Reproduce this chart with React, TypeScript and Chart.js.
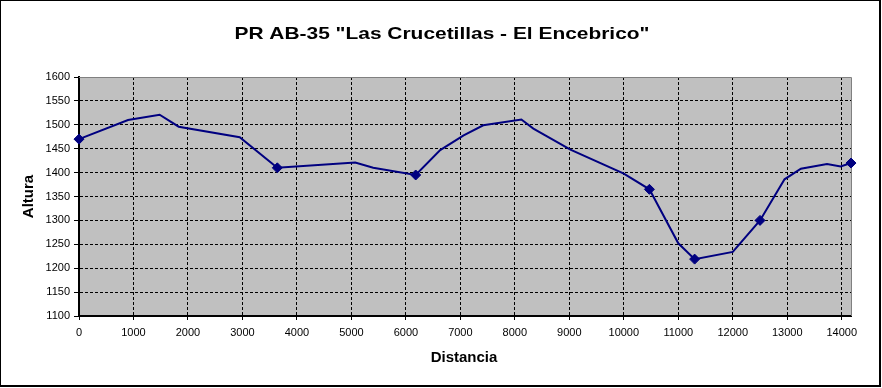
import React, { useEffect, useRef } from "react";
import { Chart, registerables } from "chart.js";

Chart.register(...registerables);

const TITLE = 'PR AB-35 "Las Crucetillas - El Encebrico"';
const X_TITLE = "Distancia";
const Y_TITLE = "Altura";

const distances = [0, 900, 1480, 1830, 2950, 3640, 5070, 5400, 6180, 6630, 7060, 7420, 8120, 8340, 9020, 10000, 10470, 11000, 11300, 12000, 12500, 12950, 13250, 13730, 13980, 14170];
const altitudes = [1470, 1510, 1521, 1496, 1474, 1410, 1421, 1410, 1395, 1447, 1478, 1499, 1511, 1492, 1448, 1398, 1365, 1252, 1219, 1234, 1300, 1386, 1408, 1418, 1413, 1420];
const waypoints = [true, false, false, false, false, true, false, false, true, false, false, false, false, false, false, false, true, false, true, false, true, false, false, false, false, true];

const xTicks = [0, 1000, 2000, 3000, 4000, 5000, 6000, 7000, 8000, 9000, 10000, 11000, 12000, 13000, 14000];
const yTicks = [1100, 1150, 1200, 1250, 1300, 1350, 1400, 1450, 1500, 1550, 1600];

const FONT = "'Liberation Sans', Arial, sans-serif";

export default function App() {
  const ref = useRef<HTMLCanvasElement | null>(null);

  useEffect(() => {
    const canvas = ref.current;
    if (!canvas) return;

    const decor = {
      id: "decor",
      beforeDraw(chart: any) {
        const { ctx, chartArea: a } = chart;
        ctx.save();
        ctx.fillStyle = "#ffffff";
        ctx.fillRect(0, 0, chart.width, chart.height);
        ctx.fillStyle = "#c0c0c0";
        ctx.fillRect(a.left, a.top, a.right - a.left, a.bottom - a.top);
        // outer frame
        ctx.fillStyle = "#000000";
        ctx.fillRect(0, 0, 881, 1);
        ctx.fillRect(0, 0, 1, 387);
        ctx.fillRect(879, 0, 2, 387);
        ctx.fillRect(0, 385, 881, 2);
        // chart title (stretched to the reference's wide rendering)
        ctx.fillStyle = "#000000";
        ctx.textAlign = "center";
        ctx.textBaseline = "middle";
        ctx.font = `bold 17px ${FONT}`;
        const w = ctx.measureText(TITLE).width;
        const sx = 415 / w;
        ctx.save();
        ctx.translate(442, 34);
        ctx.scale(sx, 1);
        ctx.fillText(TITLE, 0, 0);
        ctx.restore();
        // axis titles
        ctx.font = `bold 15px ${FONT}`;
        ctx.fillText(X_TITLE, 464, 358);
        ctx.save();
        ctx.translate(29, (a.top + a.bottom) / 2);
        ctx.rotate(-Math.PI / 2);
        ctx.fillText(Y_TITLE, 0, 0);
        ctx.restore();
        ctx.restore();
      },
      beforeDatasetsDraw(chart: any) {
        const { ctx, chartArea: a } = chart;
        ctx.save();
        ctx.strokeStyle = "#808080";
        ctx.lineWidth = 1;
        ctx.beginPath();
        ctx.moveTo(a.left, a.top + 0.5);
        ctx.lineTo(a.right + 0.5, a.top + 0.5);
        ctx.lineTo(a.right + 0.5, a.bottom);
        ctx.stroke();
        ctx.restore();
      },
    };

    const chart = new Chart(canvas, {
      type: "line",
      data: {
        datasets: [
          {
            label: "Altura",
            data: distances.map((d, i) => ({ x: d, y: altitudes[i] })),
            borderColor: "#000080",
            backgroundColor: "#000080",
            borderWidth: 2,
            tension: 0,
            pointStyle: "rectRot",
            pointRadius: waypoints.map((w) => (w ? 5 : 0)),
            pointHoverRadius: waypoints.map((w) => (w ? 5 : 0)),
            pointBackgroundColor: "#000080",
            pointBorderColor: "#000080",
            pointBorderWidth: 1,
            clip: false as any,
          },
        ],
      },
      options: {
        responsive: false,
        animation: false,
        events: [],
        layout: { padding: { top: 77, right: 31, left: 0, bottom: 0 } },
        plugins: {
          legend: { display: false },
          title: { display: false },
          tooltip: { enabled: false },
        },
        scales: {
          x: {
            type: "linear",
            min: 0,
            max: 14170,
            afterBuildTicks: (scale: any) => {
              scale.ticks = xTicks.map((v) => ({ value: v }));
            },
            afterFit: (scale: any) => {
              scale.height = 72;
            },
            ticks: {
              color: "#000000",
              font: { family: FONT, size: 11 },
              padding: 6,
              maxRotation: 0,
              minRotation: 0,
              autoSkip: false,
              callback: (v: any) => String(v),
            },
            grid: {
              color: (c: any) => (c.tick && c.tick.value === 0 ? "rgba(0,0,0,0)" : "#000000"),
              lineWidth: 1,
              tickLength: 4,
              tickColor: "#000000",
              drawTicks: true,
            },
            border: { display: true, color: "#000000", width: 2, dash: [3, 2] },
          },
          y: {
            type: "linear",
            min: 1100,
            max: 1600,
            afterBuildTicks: (scale: any) => {
              scale.ticks = yTicks.map((v) => ({ value: v }));
            },
            afterFit: (scale: any) => {
              scale.width = 79;
            },
            ticks: {
              color: "#000000",
              font: { family: FONT, size: 11 },
              padding: 4,
              autoSkip: false,
              callback: (v: any) => String(v),
            },
            grid: {
              color: (c: any) =>
                c.tick && (c.tick.value === 1100 || c.tick.value === 1600) ? "rgba(0,0,0,0)" : "#000000",
              lineWidth: 1,
              tickLength: 5,
              tickColor: "#000000",
              drawTicks: true,
            },
            border: { display: true, color: "#000000", width: 2, dash: [3, 2] },
          },
        },
      },
      plugins: [decor],
    });

    return () => chart.destroy();
  }, []);

  return (
    <div style={{ position: "fixed", left: 0, top: 0, width: 882, height: 388, background: "#ffffff" }}>
      <canvas ref={ref} width={882} height={388} style={{ display: "block" }} />
    </div>
  );
}
